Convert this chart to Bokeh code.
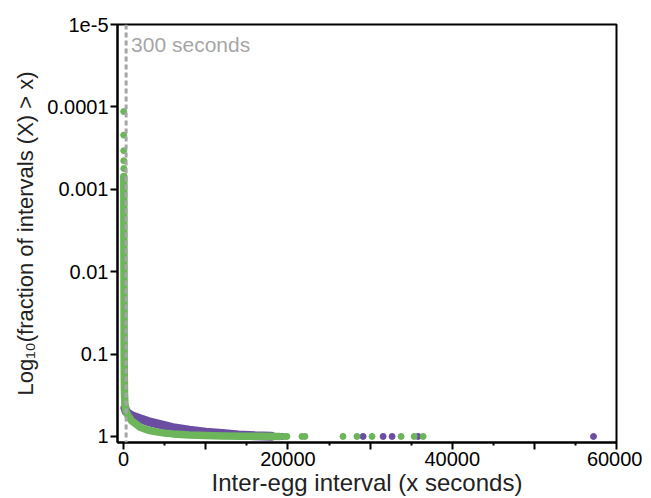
from bokeh.plotting import figure
from bokeh.models import Range1d, FixedTicker, Span, Label
from bokeh.embed import file_html
from bokeh.resources import INLINE

# ---- ticks ----
x_ticks = [0, 10000, 20000, 30000, 40000, 50000, 60000]
x_tick_labels = ["0", "", "20000", "", "40000", "", "60000"]
x_minor_ticks = [5000, 15000, 25000, 35000, 45000, 55000]
y_ticks = [1e-5, 1e-4, 1e-3, 1e-2, 1e-1, 1]
y_tick_labels = ["1e-5", "0.0001", "0.001", "0.01", "0.1", "1"]

# ---- data ----
# purple series: dense curve
purple_x = [150, 300, 500, 1000, 2000, 3000, 4000, 5000, 6000, 8000, 10000, 12000, 14000, 16000, 18000]
purple_y = [0.45, 0.50, 0.52, 0.56, 0.61, 0.66, 0.70, 0.74, 0.78, 0.84, 0.89, 0.92, 0.96, 0.98, 0.99]
# purple isolated points
purple_pts_x = [19270, 29150, 31590, 32680, 35850, 57200]
purple_pts_y = [0.999, 0.999, 0.999, 0.999, 0.999, 0.999]

# green series: dense curve
green_x = [18, 20, 25, 30, 40, 50, 60, 80, 100, 150, 250, 500, 1000, 2000, 3000, 4000, 5000, 6000,
           8000, 10000, 12000, 15000, 17000, 19000]
green_y = [7e-4, 1e-3, 2e-3, 5e-3, 0.01, 0.03, 0.1, 0.2, 0.3, 0.4, 0.48, 0.55, 0.65, 0.77, 0.84, 0.88,
           0.91, 0.93, 0.96, 0.975, 0.985, 0.993, 0.996, 0.998]
# green isolated points
green_pts_x = [5, 8, 10, 12, 15, 19630, 19880, 21700, 22070, 26700, 28400, 30240, 33780, 35370, 36460]
green_pts_y = [1.14e-4, 2.2e-4, 3.4e-4, 4.5e-4, 5.6e-4, 0.999, 0.999, 0.999, 0.999, 0.999, 0.999,
               0.999, 0.999, 0.999, 0.999]

PURPLE = "#6b4ea2"
GREEN = "#6cb55a"
FONT = "Liberation Sans"

p = figure(frame_width=499, frame_height=418,
           x_range=Range1d(-750, 60000), y_range=Range1d(1.183, 1e-5),
           y_axis_type="log", output_backend="svg", toolbar_location=None,
           min_border_left=117, min_border_top=24, min_border_right=26, min_border_bottom=48)

p.grid.visible = False
p.outline_line_color = "black"
p.outline_line_width = 2
p.background_fill_color = "white"
p.border_fill_color = "white"

# dashed 300 s line
p.add_layout(Span(location=300, dimension="height", line_color="#a6a6a6",
                  line_width=3, line_dash="5 3"))

# purple
p.line(purple_x, purple_y, line_color=PURPLE, line_width=9, line_cap="round", line_join="round")
p.scatter(purple_pts_x, purple_pts_y, size=6, color=PURPLE)
# green
p.line(green_x, green_y, line_color=GREEN, line_width=7.5, line_cap="round", line_join="round")
p.scatter(green_pts_x, green_pts_y, size=6, color=GREEN)

p.add_layout(Label(x=300, y=1.75e-5, x_offset=5, text="300 seconds", text_baseline="middle",
                   text_color="#a6a6a6", text_font_size="21px", text_font=FONT))

# axes
for ax in (p.xaxis[0], p.yaxis[0]):
    ax.axis_line_width = 2
    ax.axis_line_color = "black"
    ax.major_tick_line_width = 2
    ax.minor_tick_line_width = 2
    ax.major_tick_in = 0
    ax.minor_tick_in = 0
    ax.major_tick_out = 7
    ax.minor_tick_out = 3
    ax.major_label_text_font = FONT
    ax.major_label_text_font_size = "20px"
    ax.major_label_text_color = "black"
    ax.axis_label_text_font = FONT
    ax.axis_label_text_font_style = "normal"
    ax.axis_label_text_color = "#222222"
    ax.major_label_standoff = 2

p.xaxis[0].ticker = FixedTicker(ticks=x_ticks, minor_ticks=x_minor_ticks)
p.xaxis[0].major_label_overrides = {t: l for t, l in zip(x_ticks, x_tick_labels)}
p.xaxis[0].axis_label = "Inter-egg interval (x seconds)"
p.xaxis[0].axis_label_text_font_size = "24px"
p.xaxis[0].axis_label_standoff = 0

p.yaxis[0].ticker = FixedTicker(ticks=y_ticks, minor_ticks=[])
p.yaxis[0].major_label_overrides = {t: l for t, l in zip(y_ticks, y_tick_labels)}
p.yaxis[0].axis_label = "Log\u2081\u2080(fraction of intervals (X) > x)"
p.yaxis[0].axis_label_text_font_size = "22px"
p.yaxis[0].axis_label_standoff = 6

open("out.html", "w").write(file_html(p, INLINE))
